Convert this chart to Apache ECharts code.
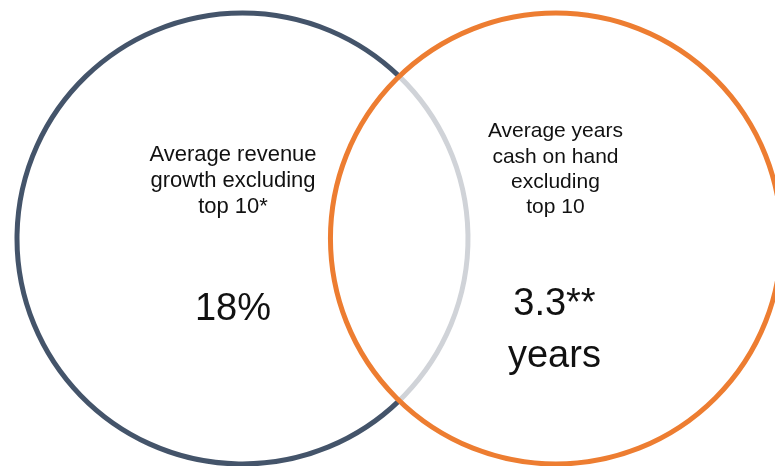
<!DOCTYPE html>
<html>
<head>
<meta charset="utf-8">
<script src="https://cdn.jsdelivr.net/npm/echarts@6/dist/echarts.min.js"></script>
<style>
  html, body { margin: 0; padding: 0; background: #fff; }
  #chart { width: 775px; height: 466px; }
</style>
</head>
<body>
<div id="chart"></div>
<script>
// Two-set Venn diagram: circle geometry in unit-radius coordinates
const setLabels = [
  'Average revenue\ngrowth excluding\ntop 10*',
  'Average years\ncash on hand\nexcluding\ntop 10'
];
const setValues = ['18%', '3.3**\nyears'];
const centerX = [0, 1.39];
const centerY = [0, 0];
const radius = [1, 1];

// Visible extent of the unit-radius plane
const viewX = [-1.0754, 2.3614];
const viewY = [-1.0089, 1.0576];

const circleColors = ['#44546A', '#ED7D31'];
const overlapColor = '#D0D3D8';
const textColor = '#111111';
const fontFamily = '"Liberation Sans", Arial, Helvetica, sans-serif';

// Text placement relative to each circle centre (pixels)
const labelStyle = [
  { dx: -9.5, dy: -58, size: 22, lh: 26 },
  { dx: -0.5, dy: -69, size: 21, lh: 25.3 }
];
const valueStyle = [
  { dx: -9.5, dy: 71.5, size: 38, lh: 49 },
  { dx: -1.5, dy: 92.5, size: 38, lh: 52 }
];

const data = setLabels.map((_, i) => [centerX[i], centerY[i], radius[i]]);

function renderCircle(params, api) {
  const i = params.dataIndex;
  const c = api.coord([api.value(0), api.value(1)]);
  const r = api.size([api.value(2), 0])[0];
  const children = [];
  const j = 1 - i;
  const baseStroke = { fill: null, lineWidth: 5 };

  if (i === 0) {
    // Left circle: the arc lying inside the other circle is drawn in grey
    const d = Math.abs(centerX[j] - centerX[i]);
    const theta = Math.acos(Math.min(1, (d * d + radius[i] * radius[i] - radius[j] * radius[j]) / (2 * d * radius[i])));
    children.push({
      type: 'arc', z2: 1,
      shape: { cx: c[0], cy: c[1], r: r, startAngle: theta, endAngle: 2 * Math.PI - theta, clockwise: true },
      style: Object.assign({ stroke: circleColors[i] }, baseStroke)
    });
    children.push({
      type: 'arc', z2: 1,
      shape: { cx: c[0], cy: c[1], r: r, startAngle: -theta, endAngle: theta, clockwise: true },
      style: Object.assign({ stroke: overlapColor }, baseStroke)
    });
  } else {
    children.push({
      type: 'circle', z2: 5,
      shape: { cx: c[0], cy: c[1], r: r },
      style: Object.assign({ stroke: circleColors[i] }, baseStroke)
    });
  }

  const ls = labelStyle[i];
  children.push({
    type: 'text', z2: 10,
    x: c[0] + ls.dx, y: c[1] + ls.dy,
    style: {
      text: setLabels[i], align: 'center', verticalAlign: 'middle',
      fontSize: ls.size, lineHeight: ls.lh, fontFamily: fontFamily, fill: textColor
    }
  });
  const vs = valueStyle[i];
  children.push({
    type: 'text', z2: 10,
    x: c[0] + vs.dx, y: c[1] + vs.dy,
    style: {
      text: setValues[i], align: 'center', verticalAlign: 'middle',
      fontSize: vs.size, lineHeight: vs.lh, fontFamily: fontFamily, fill: textColor
    }
  });
  return { type: 'group', children: children };
}

const chart = echarts.init(document.getElementById('chart'), null, { renderer: 'canvas' });
chart.setOption({
  backgroundColor: '#ffffff',
  animation: false,
  grid: { left: 0, right: 0, top: 0, bottom: 0, containLabel: false },
  xAxis: { type: 'value', min: viewX[0], max: viewX[1], show: false },
  yAxis: { type: 'value', min: viewY[0], max: viewY[1], show: false },
  series: [{
    type: 'custom',
    coordinateSystem: 'cartesian2d',
    renderItem: renderCircle,
    clip: false,
    silent: true,
    data: data
  }]
});
</script>
</body>
</html>
